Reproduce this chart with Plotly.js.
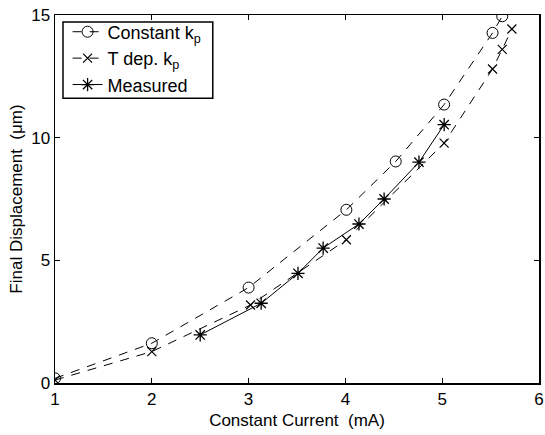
<!DOCTYPE html>
<html>
<head>
<meta charset="utf-8">
<script src="https://cdn.plot.ly/plotly-3.0.1.min.js"></script>
<style>html,body{margin:0;padding:0;background:#fff;}#chart{width:545px;height:435px;}</style>
</head>
<body>
<div id="chart"></div>
<script>
// Data
const constX = [1.0, 2.0, 3.0, 4.01, 4.52, 5.02, 5.52, 5.62];
const constY = [0.19, 1.62, 3.89, 7.06, 9.03, 11.35, 14.27, 14.95];

const tdepX = [1.0, 2.0, 3.02, 4.01, 5.02, 5.52, 5.62, 5.72];
const tdepY = [0.12, 1.28, 3.18, 5.84, 9.78, 12.8, 13.6, 14.43];

const measX = [2.5, 3.13, 3.51, 3.77, 4.14, 4.40, 4.76, 5.02];
const measY = [1.96, 3.25, 4.47, 5.5, 6.48, 7.5, 9.0, 10.53];

const names = ['Constant k<sub>p</sub>', 'T dep. k<sub>p</sub>', 'Measured'];
const xTicks = [1, 2, 3, 4, 5, 6];
const yTicks = [0, 5, 10, 15];

const FONT = 'Liberation Sans, Arial, Helvetica, sans-serif';
const FS = 17;

const traces = [
  {x: constX, y: constY, name: names[0], mode: 'lines+markers', type: 'scatter',
   line: {color: '#000', width: 1, dash: '9px,8px'},
   marker: {symbol: 'circle-open', size: 11, color: '#000', line: {width: 1}}},
  {x: tdepX, y: tdepY, name: names[1], mode: 'lines+markers', type: 'scatter',
   line: {color: '#000', width: 1, dash: '9px,8px'},
   marker: {symbol: 'x-thin-open', size: 9, color: '#000', line: {width: 1.2, color: '#000'}}},
  {x: measX, y: measY, name: names[2], mode: 'lines+markers', type: 'scatter',
   line: {color: '#000', width: 1},
   marker: {symbol: 'asterisk-open', size: 11, color: '#000', line: {width: 1.3, color: '#000'}}}
];

const axisCommon = {
  showgrid: false, zeroline: false, showline: true, mirror: 'ticks',
  linecolor: '#000', linewidth: 1.5, ticks: 'inside', ticklen: 5,
  tickcolor: '#000', tickwidth: 1,
  tickfont: {family: FONT, size: FS, color: '#000'}
};

const layout = {
  width: 545, height: 435,
  margin: {l: 55, r: 6, t: 15, b: 52},
  paper_bgcolor: '#fff', plot_bgcolor: '#fff',
  font: {family: FONT, size: FS, color: '#000'},
  showlegend: true,
  legend: {x: 0.026, y: 1.004, xanchor: 'left', yanchor: 'top',
           bgcolor: 'rgba(0,0,0,0)', borderwidth: 0,
           font: {family: FONT, size: 18, color: '#000'}, tracegroupgap: 0},
  shapes: [{type: 'rect', xref: 'paper', yref: 'paper', layer: 'above',
            x0: 0.0165, x1: 0.326, y0: 0.774, y1: 0.981,
            fillcolor: '#fff', line: {color: '#000', width: 1.5}}],
  xaxis: Object.assign({}, axisCommon, {
    range: [1, 6], tickvals: xTicks, ticktext: xTicks.map(String),
    title: {text: 'Constant Current  (mA)', standoff: 6,
            font: {family: FONT, size: FS, color: '#000'}}
  }),
  yaxis: Object.assign({}, axisCommon, {
    range: [0, 15], tickvals: yTicks, ticktext: yTicks.map(String),
    title: {text: 'Final Displacement  (μm)', standoff: 4,
            font: {family: FONT, size: FS, color: '#000'}}
  })
};

Plotly.newPlot('chart', traces, layout, {displayModeBar: false, staticPlot: true});
</script>
</body>
</html>
